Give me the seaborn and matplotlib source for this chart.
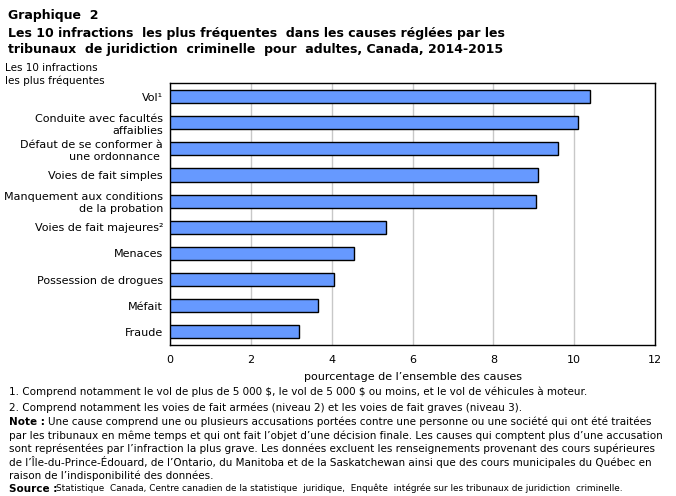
import matplotlib
matplotlib.use("Agg")
import matplotlib.pyplot as plt
import seaborn as sns
import pandas as pd

# données du graphique
infractions = ["Vol¹", "Conduite avec facultés\naffaiblies", "Défaut de se conformer à\nune ordonnance ",
               "Voies de fait simples", "Manquement aux conditions\nde la probation", "Voies de fait majeures²",
               "Menaces", "Possession de drogues", "Méfait", "Fraude"]
pourcentages = [10.4, 10.1, 9.6, 9.1, 9.05, 5.35, 4.55, 4.05, 3.65, 3.2]
x_ticks = [0, 2, 4, 6, 8, 10, 12]

df = pd.DataFrame({"infraction": infractions, "pct": pourcentages})

sns.set_style("white")
plt.rcParams["font.family"] = ["DejaVu Sans"]
plt.rcParams["text.color"] = "black"
plt.rcParams["axes.labelcolor"] = "black"
plt.rcParams["xtick.color"] = "black"
plt.rcParams["ytick.color"] = "black"
plt.rcParams["text.parse_math"] = False

fig = plt.figure(figsize=(6.76, 4.96), dpi=100)
ax = fig.add_axes([0.2515, 0.3044, 0.7175, 0.5273])

sns.barplot(data=df, x="pct", y="infraction", orient="h", color="#6699FF", saturation=1,
            width=0.5, edgecolor="black", linewidth=1, ax=ax, zorder=3)
ax.set_xlim(0, 12)
ax.set_xticks(x_ticks)
ax.xaxis.grid(True, color="#c8c8c8", linewidth=1, zorder=0)
ax.set_axisbelow(True)
for s in ax.spines.values():
    s.set_visible(True)
    s.set_color("black")
    s.set_linewidth(1)
ax.tick_params(axis="y", length=0, labelsize=8, pad=5)
ax.tick_params(axis="x", length=0, labelsize=8, pad=7)
ax.set_ylabel("")
ax.set_xlabel("pourcentage de l’ensemble des causes", fontsize=8, labelpad=5)
for lab in ax.get_yticklabels():
    lab.set_horizontalalignment("right")
    lab.set_multialignment("right")
    lab.set_linespacing(1.25)

def ypix(p):
    return 1 - p / 496

fig.text(0.012, ypix(15), "Graphique  2", fontsize=9, fontweight="bold", va="center")
fig.text(0.012, ypix(33), "Les 10 infractions  les plus fréquentes  dans les causes réglées par les",
         fontsize=9, fontweight="bold", va="center")
fig.text(0.012, ypix(50), "tribunaux  de juridiction  criminelle  pour  adultes, Canada, 2014-2015",
         fontsize=9, fontweight="bold", va="center")
fig.text(0.008, ypix(68), "Les 10 infractions", fontsize=7.5, va="center")
fig.text(0.008, ypix(81), "les plus fréquentes", fontsize=7.5, va="center")

fs = 7.45
notes = [
    "1. Comprend notamment le vol de plus de 5 000 $, le vol de 5 000 $ ou moins, et le vol de véhicules à moteur.",
    "2. Comprend notamment les voies de fait armées (niveau 2) et les voies de fait graves (niveau 3).",
]
for line, y in zip(notes, [392, 408]):
    fig.text(0.013, ypix(y), line, fontsize=fs, va="center")

note_lines = [
    "Une cause comprend une ou plusieurs accusations portées contre une personne ou une société qui ont été traitées",
    "par les tribunaux en même temps et qui ont fait l’objet d’une décision finale. Les causes qui comptent plus d’une accusation",
    "sont représentées par l’infraction la plus grave. Les données excluent les renseignements provenant des cours supérieures",
    "de l’Île-du-Prince-Édouard, de l’Ontario, du Manitoba et de la Saskatchewan ainsi que des cours municipales du Québec en",
    "raison de l’indisponibilité des données.",
]
fig.text(0.013, ypix(422), "Note :", fontsize=fs, fontweight="bold", va="center")
fig.text(0.071, ypix(422), note_lines[0], fontsize=fs, va="center")
for line, y in zip(note_lines[1:], [435.5, 449, 462, 475.5]):
    fig.text(0.013, ypix(y), line, fontsize=fs, va="center")
fig.text(0.013, ypix(488.5), "Source :", fontsize=fs, fontweight="bold", va="center")
fig.text(0.083, ypix(488.5), "Statistique  Canada, Centre canadien de la statistique  juridique,  Enquête  intégrée sur les tribunaux de juridiction  criminelle.",
         fontsize=6.4, va="center")

fig.savefig("out.png", dpi=100)
